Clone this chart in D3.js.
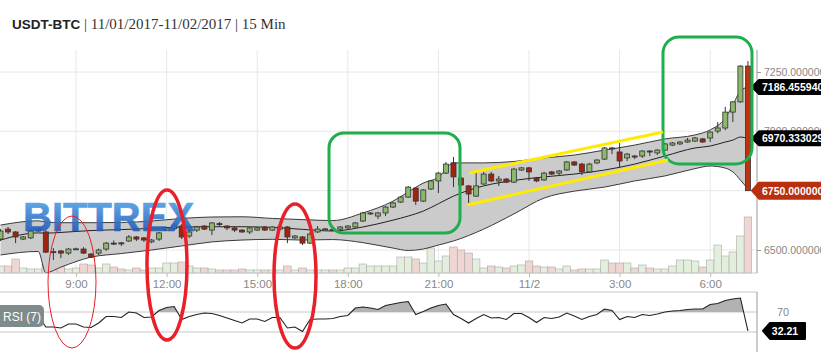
<!DOCTYPE html>
<html>
<head>
<meta charset="utf-8">
<script src="https://cdn.jsdelivr.net/npm/d3@7"></script>
<style>
  body { margin: 0; background: #fff; }
  svg { display: block; font-family: "Liberation Sans", Arial, sans-serif; }
</style>
</head>
<body>
<div id="chart"></div>
<script>
// 15 min candles, first one is 11/01 6:30
var opens = [6546,6588,6576,6546,6551,6580,6576,6493,6496,6487,
  6503,6504,6483,6487,6504,6529,6530,6538,6555,6551,
  6534,6546,6584,6590,6601,6559,6584,6601,6584,6611,
  6601,6593,6584,6576,6584,6597,6584,6588,6597,6551,
  6555,6529,6576,6588,6586,6588,6593,6597,6622,6652,
  6643,6656,6681,6702,6723,6761,6706,6757,6791,6824,
  6867,6803,6770,6727,6778,6820,6791,6799,6786,6837,
  6846,6803,6795,6829,6824,6837,6871,6862,6829,6867,
  6883,6930,6913,6888,6896,6896,6917,6909,6921,6942,
  6947,6955,6959,6968,6972,7001,7014,7081,7124,7275];
var closes = [6580,6576,6555,6555,6580,6588,6491,6491,6487,6504,
  6505,6487,6470,6500,6529,6527,6527,6555,6546,6542,
  6542,6572,6593,6605,6555,6576,6597,6588,6614,6607,
  6593,6584,6576,6593,6593,6584,6597,6597,6555,6559,
  6529,6567,6588,6589,6584,6597,6601,6614,6656,6656,
  6656,6681,6698,6723,6765,6706,6753,6791,6824,6862,
  6808,6774,6736,6770,6820,6791,6799,6786,6841,6846,
  6829,6791,6824,6820,6833,6871,6858,6829,6862,6879,
  6930,6926,6875,6904,6892,6917,6913,6921,6947,6951,
  6955,6963,6972,6955,6997,7014,7081,7124,7275,6750];
var highs = [6588,6597,6580,6559,6588,6597,6584,6508,6500,6508,
  6510,6512,6487,6506,6534,6540,6534,6563,6559,6555,
  6546,6576,6597,6614,6609,6584,6601,6605,6618,6618,
  6605,6597,6588,6597,6597,6601,6601,6601,6601,6563,
  6559,6576,6601,6593,6590,6601,6605,6618,6660,6660,
  6660,6685,6702,6727,6770,6765,6757,6795,6829,6871,
  6892,6808,6774,6824,6829,6829,6812,6803,6846,6850,
  6850,6808,6829,6833,6837,6875,6875,6867,6867,6883,
  6934,6934,6951,6909,6900,6921,6921,6925,6951,6955,
  6959,6972,6976,6972,7001,7039,7103,7128,7279,7296];
var lows = [6538,6567,6529,6542,6546,6576,6487,6458,6466,6479,
  6500,6483,6466,6479,6496,6521,6517,6534,6538,6534,
  6529,6538,6580,6584,6546,6551,6576,6584,6563,6601,
  6584,6576,6572,6567,6580,6580,6580,6584,6529,6546,
  6521,6525,6572,6584,6580,6584,6588,6593,6618,6648,
  6631,6643,6677,6698,6719,6690,6702,6753,6740,6820,
  6765,6770,6698,6723,6774,6786,6770,6782,6782,6833,
  6791,6786,6791,6816,6812,6833,6854,6816,6825,6862,
  6879,6904,6846,6875,6883,6888,6896,6900,6917,6938,
  6942,6951,6955,6951,6955,6992,7005,7039,7120,6750];
var volumes = [7,7,14,5,4,4,9,9,7,4,
  5,9,8,5,9,6,4,3,5,3,
  5,5,10,10,11,7,5,5,4,3,
  3,3,4,3,3,3,3,3,7,3,
  5,3,3,3,3,3,5,5,9,7,
  7,7,7,16,16,14,10,25,12,17,
  26,23,20,14,5,7,6,5,7,8,
  12,7,6,6,4,7,3,4,4,4,
  13,10,10,10,5,8,5,4,4,7,
  13,13,12,6,13,28,17,21,37,56];
var rsi = [58,60,52,55,62,63,40,40,38,46,
  46,40,39,48,61,61,59,70,68,59,
  60,73,79,81,55,61,65,68,67,63,
  58,53,48,56,56,51,59,59,38,40,
  31,55,56,56,57,61,63,78,80,78,
  75,83,86,89,91,65,71,78,83,86,
  65,57,48,57,65,58,59,55,67,67,
  59,49,59,57,60,68,62,55,61,65,
  76,73,55,61,59,65,63,66,70,72,
  73,75,76,76,85,87,93,96,98,32.21];

var bandIdx = [0,5,6,8,12,16,20,24,28,32,36,40,44,48,52,54,56,58,60,64,68,72,76,80,84,88,92,94,96,97,98,99];
var bandUpper = [6605,6623,6618,6615,6615,6616,6622,6633,6639,6640,6633,6628,6624,6656,6706,6744,6782,6806,6867,6867,6873,6888,6900,6921,6942,6968,6985,7006,7056,7111,7170,7186.45594];
var bandMid = [6542,6572,6571,6574,6582,6586,6591,6597,6598,6598,6595,6587,6580,6597,6626,6643,6664,6695,6727,6770,6793,6808,6820,6837,6862,6896,6930,6938,6955,6963,6976,6970.333029];
var bandLower = [6479,6494,6404,6428,6470,6485,6500,6517,6534,6542,6545,6542,6544,6531,6508,6498,6504,6521,6538,6588,6652,6719,6748,6765,6791,6812,6843,6854,6845,6829,6795,6757];

var priceTicks = [6500, 7000, 7250, 6750];
var lastUpper = 7186.455940, lastMid = 6970.333029, lastClose = 6750, lastRsi = 32.21;

var W = 821, H = 352, plotR = 757;
var t0 = new Date(2017, 10, 1, 6, 30);
var times = opens.map(function(d, i) { return d3.timeMinute.offset(t0, 15 * i); });

var x = d3.scaleTime()
    .domain([new Date(2017, 10, 1, 6, 29), new Date(2017, 10, 2, 7, 33)])
    .range([0, plotR]);
var y = d3.scaleLinear().domain([6500, 7250]).range([250, 72]);
var yVol = d3.scaleLinear().domain([0, 56]).range([273, 217]);
var yRsi = d3.scaleLinear().domain([30, 70]).range([332, 312]);
var step = x(times[1]) - x(times[0]);
var timeTicks = d3.timeHour.every(3).range(x.domain()[0], x.domain()[1]);
var fmtTime = function(d) { return d.getHours() === 0 ? d3.timeFormat("%-m/%-d")(d) : d3.timeFormat("%-H:00")(d); };

var svg = d3.select("#chart").append("svg").attr("width", W).attr("height", H);
var defs = svg.append("defs");

// title
var title = svg.append("text").attr("x", 12).attr("y", 29).attr("fill", "#222");
title.append("tspan").attr("font-weight", "bold").attr("font-size", "13.5px").text("USDT-BTC");
title.append("tspan").attr("font-family", "'Liberation Serif', 'DejaVu Serif', serif")
  .attr("font-size", "15px").attr("fill", "#333").text(" | 11/01/2017-11/02/2017 | 15 Min");

// grid
svg.append("g").selectAll("line").data(timeTicks).enter().append("line")
  .attr("x1", function(d) { return x(d); }).attr("x2", function(d) { return x(d); })
  .attr("y1", 50).attr("y2", 273).attr("stroke", "#e8e8e8");
svg.append("g").selectAll("line").data(priceTicks).enter().append("line")
  .attr("x1", 0).attr("x2", plotR)
  .attr("y1", function(d) { return y(d); }).attr("y2", function(d) { return y(d); })
  .attr("stroke", "#e8e8e8");

// volume
svg.append("g").selectAll("rect").data(volumes).enter().append("rect")
  .attr("x", function(d, i) { return x(times[i]) - step / 2; })
  .attr("width", step)
  .attr("y", function(d) { return yVol(d); })
  .attr("height", function(d) { return yVol(0) - yVol(d); })
  .attr("fill", function(d, i) { return closes[i] >= opens[i] ? "#e3efdc" : "#efd6d2"; })
  .attr("stroke", "#aaa").attr("stroke-width", 0.6);

// bollinger band
var bx = function(d, k) { return x(times[bandIdx[k]]); };
var band = d3.area().curve(d3.curveMonotoneX)
  .x(function(d, k) { return x(times[bandIdx[k]]); })
  .y0(function(d, k) { return y(bandLower[k]); })
  .y1(function(d) { return y(d); });
svg.append("path").datum(bandUpper).attr("d", band).attr("fill", "#cbcbcb");
var bline = d3.line().curve(d3.curveMonotoneX).x(bx).y(function(d) { return y(d); });
[bandUpper, bandMid, bandLower].forEach(function(arr, j) {
  svg.append("path").datum(arr).attr("d", bline)
    .attr("fill", "none").attr("stroke", j === 1 ? "#222" : "#3a3a3a").attr("stroke-width", 1);
});

// candles
var candles = svg.append("g").selectAll("g").data(opens).enter().append("g");
candles.append("line")
  .attr("x1", function(d, i) { return x(times[i]); }).attr("x2", function(d, i) { return x(times[i]); })
  .attr("y1", function(d, i) { return y(highs[i]); }).attr("y2", function(d, i) { return y(lows[i]); })
  .attr("stroke", "#333");
candles.append("rect")
  .attr("x", function(d, i) { return x(times[i]) - 2.5; })
  .attr("width", 5)
  .attr("y", function(d, i) { return y(Math.max(d, closes[i])); })
  .attr("height", function(d, i) { return Math.max(1, Math.abs(y(d) - y(closes[i]))); })
  .attr("fill", function(d, i) {
    if (i === opens.length - 1) return "#c0320e";
    return closes[i] >= d ? "#8cb86c" : "#a4230e";
  })
  .attr("stroke", "#333").attr("stroke-width", 0.8);

// watermark
var grad = defs.append("linearGradient").attr("id", "wm").attr("x1", 0).attr("y1", 0).attr("x2", 0).attr("y2", 1);
grad.append("stop").attr("offset", "0%").attr("stop-color", "#56aef0");
grad.append("stop").attr("offset", "100%").attr("stop-color", "#1a48aa");
svg.append("text").attr("x", 23).attr("y", 231)
  .attr("font-size", "40px").attr("font-weight", "bold")
  .attr("fill", "url(#wm)").attr("stroke", "url(#wm)").attr("stroke-width", 0.6)
  .attr("opacity", 0.9).text("BITTREX");

// axes
svg.append("line").attr("x1", 0).attr("x2", plotR).attr("y1", 273).attr("y2", 273).attr("stroke", "#ccc");
svg.append("line").attr("x1", plotR).attr("x2", plotR).attr("y1", 50).attr("y2", 273).attr("stroke", "#999");
var xAxis = svg.append("g").attr("transform", "translate(0,273)")
  .call(d3.axisBottom(x).tickValues(timeTicks).tickSize(4).tickFormat(fmtTime));
xAxis.select(".domain").remove();
xAxis.selectAll("line").attr("stroke", "#bbb");
xAxis.selectAll("text").attr("fill", "#888").attr("font-size", "11.5px").attr("font-family", "'Liberation Sans', Arial, sans-serif");
var yAxis = svg.append("g").attr("transform", "translate(" + plotR + ",0)")
  .call(d3.axisRight(y).tickValues(priceTicks).tickSize(4).tickFormat(d3.format(".6f")));
yAxis.select(".domain").remove();
yAxis.selectAll("line").attr("stroke", "#999");
yAxis.selectAll("text").attr("fill", "#888").attr("font-size", "10.5px").attr("font-family", "'Liberation Sans', Arial, sans-serif");

// RSI panel
[292, yRsi(70), yRsi(30)].forEach(function(v) {
  svg.append("line").attr("x1", 0).attr("x2", plotR).attr("y1", v).attr("y2", v).attr("stroke", "#c8c8c8");
});
svg.append("line").attr("x1", plotR).attr("x2", plotR).attr("y1", 292).attr("y2", H).attr("stroke", "#999");
defs.append("clipPath").attr("id", "over70").append("rect")
  .attr("x", 0).attr("y", 290).attr("width", plotR).attr("height", yRsi(70) - 290);
svg.append("path").datum(rsi)
  .attr("clip-path", "url(#over70)")
  .attr("d", d3.area().x(function(d, i) { return x(times[i]); }).y0(yRsi(70)).y1(function(d) { return yRsi(d); }))
  .attr("fill", "#b2b2b2");
svg.append("path").datum(rsi)
  .attr("d", d3.line().x(function(d, i) { return x(times[i]); }).y(function(d) { return yRsi(d); }))
  .attr("fill", "none").attr("stroke", "#222").attr("stroke-width", 1.1);
svg.append("rect").attr("x", -4).attr("y", 305).attr("width", 48).attr("height", 22).attr("rx", 5)
  .attr("fill", "#7f8a8a");
svg.append("text").attr("x", 3).attr("y", 320.5).attr("fill", "#fff").attr("font-size", "12px").text("RSI (7)");
svg.append("text").attr("x", 777).attr("y", yRsi(70) + 4).attr("fill", "#888").attr("font-size", "11px").text("70");

// value tags
function tag(yc, txt, fill, x0, x1, h, tx, anchor) {
  svg.append("path")
    .attr("d", "M" + x0 + "," + yc + "L" + (x0 + 7) + "," + (yc - h / 2) + "H" + x1 +
      "V" + (yc + h / 2) + "H" + (x0 + 7) + "Z")
    .attr("fill", fill).attr("stroke", fill).attr("stroke-linejoin", "round").attr("stroke-width", 2);
  svg.append("text").attr("x", tx).attr("y", yc + 4).attr("text-anchor", anchor || "start")
    .attr("fill", "#fff").attr("font-weight", "bold").attr("font-size", "10.5px").text(txt);
}
tag(y(lastUpper), d3.format(".6f")(lastUpper), "#000", 752, 830, 14, 762);
tag(y(lastMid), d3.format(".6f")(lastMid), "#000", 752, 830, 14, 762);
tag(y(lastClose), d3.format(".6f")(lastClose), "#b8300e", 752, 830, 16, 762);
tag(yRsi(lastRsi), d3.format(".2f")(lastRsi), "#000", 763, 805, 16, 785, "middle");

// annotations
var notes = svg.append("g").attr("fill", "none");
notes.append("rect").attr("x", 329).attr("y", 133).attr("width", 131).attr("height", 100).attr("rx", 15)
  .attr("stroke", "#1fae4b").attr("stroke-width", 3);
notes.append("rect").attr("x", 663).attr("y", 37).attr("width", 89).attr("height", 127).attr("rx", 16)
  .attr("stroke", "#1fae4b").attr("stroke-width", 3);
notes.append("ellipse").attr("cx", 72).attr("cy", 282).attr("rx", 24).attr("ry", 66)
  .attr("stroke", "#e8202a").attr("stroke-width", 1);
notes.append("ellipse").attr("cx", 167).attr("cy", 265).attr("rx", 20).attr("ry", 75)
  .attr("stroke", "#e8202a").attr("stroke-width", 3.5);
notes.append("ellipse").attr("cx", 295).attr("cy", 276).attr("rx", 21).attr("ry", 72)
  .attr("stroke", "#e8202a").attr("stroke-width", 3.5);
notes.append("line").attr("x1", 469).attr("y1", 173).attr("x2", 663).attr("y2", 132)
  .attr("stroke", "#ffeb00").attr("stroke-width", 3);
notes.append("line").attr("x1", 467).attr("y1", 205).attr("x2", 668).attr("y2", 160)
  .attr("stroke", "#ffeb00").attr("stroke-width", 3);
</script>
</body>
</html>
